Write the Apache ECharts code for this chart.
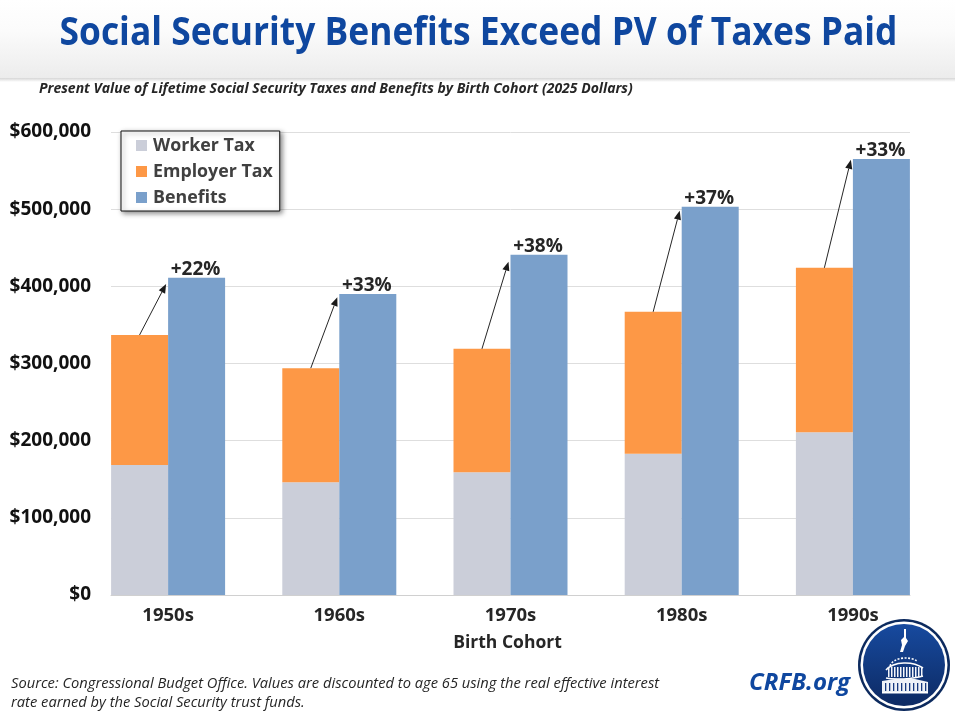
<!DOCTYPE html>
<html><head><meta charset="utf-8">
<style>html,body{margin:0;padding:0;background:#fff}#c{width:955px;height:713px}</style>
<script src="https://cdn.jsdelivr.net/npm/echarts@6/dist/echarts.min.js"></script>
</head><body><div id="c"></div>
<script>
const categories = ['1950s','1960s','1970s','1980s','1990s'];
const workerTax = [168500,146000,159000,183000,211000];
const employerTax = [168500,148000,160000,184000,213000];
const benefits = [411000,390000,441000,503000,565000];
const arrowTips = [403000,386000,432000,498000,564000];
const pctLabels = ['+22%','+33%','+38%','+37%','+33%'];
const yTicks = {min:0,max:600000,interval:100000};
const font = '"Open Sans", "Noto Sans", sans-serif';
const txt = '#262626';

const chart = echarts.init(document.getElementById('c'), null, {renderer:'canvas'});

function arrowItem(params, api){
  const i = api.value(0);
  const band = api.size([1,0])[0];
  const barW = band/3;
  const c = api.coord([i,0])[0];
  const startY = api.coord([i,api.value(1)])[1];
  const tipY = api.coord([i,api.value(2)])[1];
  const x0 = c-barW/2, y0 = startY, x1 = c-2, y1 = tipY;
  const a = Math.atan2(y1-y0,x1-x0), L = 9, W = 3.6;
  const bx = x1-L*Math.cos(a), by = y1-L*Math.sin(a);
  const nx = -Math.sin(a), ny = Math.cos(a);
  return {type:'group',children:[
    {type:'line',shape:{x1:x0,y1:y0,x2:bx,y2:by},style:{stroke:'#262626',lineWidth:1}},
    {type:'polygon',shape:{points:[[x1,y1],[bx+nx*W,by+ny*W],[bx-nx*W,by-ny*W]]},style:{fill:'#1a1a1a'}}
  ]};
}

const capitol = [
  {type:'polygon',shape:{points:[[904,629],[906,629],[906,638],[908,641],[905,646],[903,652],[900,652],[902,645],[901,640],[904,637]]},style:{fill:'#fff'},z:12},
  {type:'bezierCurve',shape:{x1:890,y1:666,x2:917,y2:661,cpx1:893,cpy1:657,cpx2:910,cpy2:656},style:{stroke:'#fff',fill:null,lineWidth:1.6,lineDash:[2,1.5]},z:12},
  {type:'bezierCurve',shape:{x1:886,y1:670,x2:923,y2:668,cpx1:894,cpy1:661,cpx2:913,cpy2:661},style:{stroke:'#fff',fill:null,lineWidth:1.6},z:12},
  {type:'bezierCurve',shape:{x1:886,y1:678,x2:923,y2:676,cpx1:894,cpy1:680,cpx2:913,cpy2:679},style:{stroke:'#fff',fill:null,lineWidth:1.4},z:12},
  {type:'polygon',shape:{points:[[882,681],[895,679],[915,679],[928,682],[928,692],[882,692]]},style:{fill:'#eef2f8'},z:12},
  {type:'rect',shape:{x:882,y:692,width:46,height:1.6},style:{fill:'#fff'},z:12}
];
[888,891,894,897,900,903,906,909,912,915,918,921].forEach(x=>capitol.push({type:'rect',shape:{x:x,y:667,width:1.5,height:10},style:{fill:'#f4f6fb'},z:12}));
[885,889,893,897,901,905,909,913,917,921,925].forEach(x=>capitol.push({type:'rect',shape:{x:x,y:683,width:1.3,height:8},style:{fill:'#17397f'},z:13}));

chart.setOption({
  animation:false,
  backgroundColor:'#fff',
  textStyle:{fontFamily:font},
  legend:{
    orient:'vertical',left:121,top:131,
    data:['Worker Tax','Employer Tax','Benefits'],
    itemWidth:11,itemHeight:11,itemGap:7,padding:[5,7,4,15],
    backgroundColor:'#fff',borderColor:'#111',borderWidth:1,
    shadowBlur:5,shadowColor:'rgba(0,0,0,0.45)',shadowOffsetX:2,shadowOffsetY:2,
    textStyle:{fontFamily:font,fontWeight:700,fontSize:17.8,color:'#404040',padding:[1,0,0,1],lineHeight:18},
    icon:'rect',selectedMode:false
  },
  grid:[
    {left:82.5,top:132,width:856,height:463},
    {left:111,top:132,width:799,height:463}
  ],
  xAxis:[
    {type:'category',gridIndex:0,data:categories,
     axisLine:{show:false},axisTick:{show:false},
     axisLabel:{margin:11,fontFamily:font,fontWeight:700,fontSize:18.5,color:txt},
     name:'Birth Cohort',nameLocation:'middle',nameGap:39,
     nameTextStyle:{fontFamily:font,fontWeight:700,fontSize:17.5,color:txt,padding:[0,6,0,0]},z:5},
    {type:'category',gridIndex:1,data:categories,
     axisLine:{show:true,lineStyle:{color:'#d0d0d0',width:1}},axisTick:{show:false},axisLabel:{show:false},z:1}
  ],
  yAxis:[
    {type:'value',gridIndex:0,min:yTicks.min,max:yTicks.max,interval:yTicks.interval,show:false,splitLine:{show:false}},
    {type:'value',gridIndex:1,min:yTicks.min,max:yTicks.max,interval:yTicks.interval,
     axisLine:{show:false},axisTick:{show:false},
     splitLine:{show:true,lineStyle:{color:'#dedede',width:1}},
     axisLabel:{margin:20,fontFamily:font,fontWeight:700,fontSize:19,color:'#111',padding:[3,0,0,0],
       formatter:v=>'$'+v.toLocaleString('en-US')}}
  ],
  series:[
    {name:'Worker Tax',type:'bar',stack:'tax',xAxisIndex:0,yAxisIndex:0,data:workerTax,barWidth:57,barGap:'0%',itemStyle:{color:'#cbced9'},z:3},
    {name:'Employer Tax',type:'bar',stack:'tax',xAxisIndex:0,yAxisIndex:0,data:employerTax,barWidth:57,itemStyle:{color:'#fd9846'},z:3},
    {name:'Benefits',type:'bar',xAxisIndex:0,yAxisIndex:0,data:benefits,barWidth:57,itemStyle:{color:'#7aa0cb'},z:3,
     label:{show:true,position:'top',distance:0,offset:[-1,1],fontFamily:font,fontWeight:700,fontSize:19,color:txt,
       formatter:p=>pctLabels[p.dataIndex]}},
    {type:'custom',xAxisIndex:0,yAxisIndex:0,z:6,renderItem:arrowItem,silent:true,legendHoverLink:false,
     encode:{x:0,y:2},
     data:categories.map((c,i)=>[i,workerTax[i]+employerTax[i],arrowTips[i]])}
  ],
  graphic:[
    {type:'rect',shape:{x:0,y:0,width:955,height:78},z:0,silent:true,
     style:{fill:new echarts.graphic.LinearGradient(0,0,0,1,[{offset:0,color:'#ffffff'},{offset:0.4,color:'#fbfbfb'},{offset:1,color:'#ececec'}])}},
    {type:'rect',shape:{x:0,y:78,width:955,height:4},z:0,silent:true,
     style:{fill:new echarts.graphic.LinearGradient(0,0,0,1,[{offset:0,color:'#d6d6d6'},{offset:1,color:'#ffffff'}])}},
    {type:'text',x:478.5,y:34,scaleX:0.884,z:10,style:{text:'Social Security Benefits Exceed PV of Taxes Paid',font:'700 40px '+font,fill:'#0f479f',align:'center',verticalAlign:'middle'}},
    {type:'text',x:39,y:89,z:10,style:{text:'Present Value of Lifetime Social Security Taxes and Benefits by Birth Cohort (2025 Dollars)',font:'italic 700 14px '+font,fill:'#262626',align:'left',verticalAlign:'middle'}},
    {type:'text',x:11,y:684,z:10,style:{text:'Source: Congressional Budget Office. Values are discounted to age 65 using the real effective interest',font:'italic 400 14.7px '+font,fill:'#262626',align:'left',verticalAlign:'middle'}},
    {type:'text',x:11,y:703,z:10,style:{text:'rate earned by the Social Security trust funds.',font:'italic 400 14.7px '+font,fill:'#262626',align:'left',verticalAlign:'middle'}},
    {type:'text',x:850,y:683,z:10,style:{text:'CRFB.org',font:'italic 700 24px '+font,fill:'#0f479f',align:'right',verticalAlign:'middle'}},
    {type:'circle',shape:{cx:904,cy:665,r:46},z:11,style:{fill:'#0c2a5e'}},
    {type:'circle',shape:{cx:904,cy:665,r:43.5},z:11,style:{fill:'#fff'}},
    {type:'circle',shape:{cx:904,cy:665,r:41},z:11,
     style:{fill:new echarts.graphic.LinearGradient(0,0,0,1,[{offset:0,color:'#174a9f'},{offset:1,color:'#0d2a63'}])}},
    ...capitol
  ]
});
</script></body></html>
